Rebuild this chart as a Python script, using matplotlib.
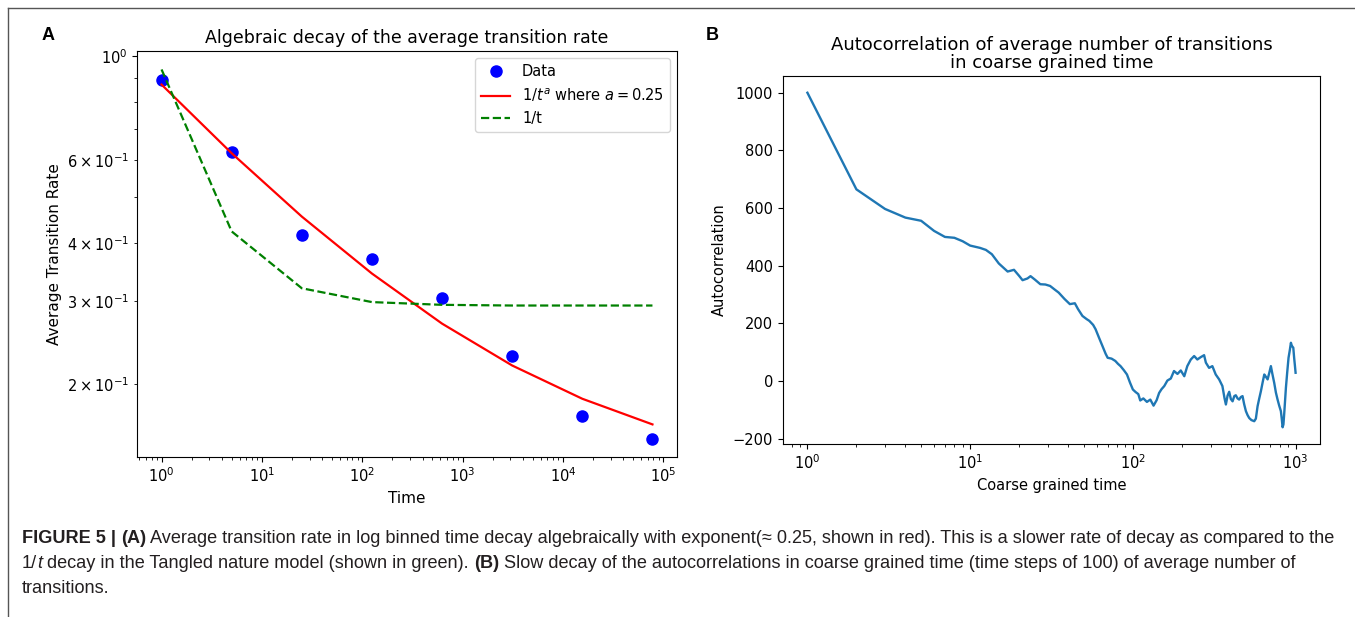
import numpy as np
import matplotlib
matplotlib.use("Agg")
import matplotlib.pyplot as plt
from matplotlib import font_manager
from matplotlib.lines import Line2D

# ---- panel A data (log binned time, powers of 5) ----
time_a = [1, 5, 25, 125, 625, 3125, 15625, 78125]
rate_data = [0.889, 0.625, 0.416, 0.369, 0.305, 0.229, 0.171, 0.153]
rate_fit = [0.870, 0.621, 0.455, 0.344, 0.269, 0.219, 0.186, 0.164]
rate_inv_t = [0.937, 0.423, 0.320, 0.299, 0.295, 0.294, 0.294, 0.294]

# ---- panel B data ----
lag_b = [1, 2, 3, 4, 5, 6, 7, 8, 9, 10,
         11.5, 12.5, 13.6, 15, 17, 18.6, 20, 21, 22.5, 23.5,
         25, 27, 29, 31, 33, 35, 38, 41, 44, 46,
         49, 52, 54, 57, 59, 62, 65, 68, 70, 74,
         78, 81, 84, 88, 92, 96, 100, 104, 108, 111,
         116, 122, 128, 134, 140, 145, 150, 156, 163, 171,
         179, 188, 197, 207, 216, 227, 238, 249, 261, 274,
         281, 294, 308, 323, 339, 355, 366, 373, 382, 391,
         400, 410, 420, 429, 440, 450, 461, 472, 483, 495,
         507, 519, 535, 557, 570, 584, 598, 612, 627, 642,
         657, 673, 690, 705, 720, 739, 757, 775, 793, 812,
         822, 832, 842, 852, 872, 888, 905, 920, 936, 945,
         955, 968, 980, 990, 1000]
autocorr_b = [1000, 665, 597, 567, 556, 521, 500, 497, 485, 470,
              462, 455, 440, 408, 380, 386, 365, 350, 356, 364,
              352, 336, 335, 330, 318, 307, 285, 267, 270, 250,
              226, 215, 209, 195, 180, 150, 122, 95, 81, 78,
              70, 60, 52, 38, 23, -5, -29, -38, -45, -67,
              -60, -72, -64, -85, -66, -41, -28, -17, 2, 9,
              35, 25, 37, 17, 52, 75, 87, 75, 83, 90,
              64, 46, 52, 23, 6, -17, -60, -81, -50, -37,
              -62, -70, -52, -49, -60, -64, -55, -52, -80, -104,
              -118, -128, -135, -139, -130, -87, -60, -35, -5, 23,
              15, 6, 30, 52, 25, -6, -40, -64, -85, -104,
              -130, -160, -150, -110, -23, 30, 81, 105, 133, 125,
              120, 116, 80, 55, 29]

W, H = 1355, 617
fig = plt.figure(figsize=(W / 100, H / 100), dpi=100)

# outer frame (top and left rules)
fig.add_artist(Line2D([8 / W, 1.0], [1 - 8 / H, 1 - 8 / H], color="#555555", lw=1.0))
fig.add_artist(Line2D([8 / W, 8 / W], [0.0, 1 - 8 / H], color="#555555", lw=1.0))

# ---- panel A ----
axA = fig.add_axes([137 / W, 1 - 457 / H, 540 / W, 406 / H])
axA.loglog(time_a, rate_data, "bo", ms=8, label="Data")
axA.loglog(time_a, rate_fit, "r-", lw=1.6, label=r"$1/t^a$ where $a = 0.25$")
axA.loglog(time_a, rate_inv_t, "g--", lw=1.6, label="1/t")
axA.set_title("Algebraic decay of the average transition rate", fontsize=12.5)
axA.set_xlabel("Time", fontsize=11)
axA.set_ylabel("Average Transition Rate", fontsize=11)
axA.tick_params(labelsize=10.5, which="both")
axA.legend(loc="upper right", fontsize=10.5)

# ---- panel B ----
axB = fig.add_axes([783 / W, 1 - 444 / H, 537 / W, 368 / H])
axB.plot(lag_b, autocorr_b, color="#1f77b4", lw=1.7)
axB.set_xscale("log")
axB.set_title("Autocorrelation of average number of transitions\nin coarse grained time",
              fontsize=13, linespacing=0.95)
axB.set_xlabel("Coarse grained time", fontsize=10.5)
axB.set_ylabel("Autocorrelation", fontsize=10.5)
axB.tick_params(labelsize=10.5, which="both")

# panel letters
fig.text(42 / W, 1 - 35 / H, "A", fontsize=13, fontweight="bold",
         family=["Liberation Sans", "DejaVu Sans"], va="center")
fig.text(706 / W, 1 - 35 / H, "B", fontsize=13, fontweight="bold",
         family=["Liberation Sans", "DejaVu Sans"], va="center")

# ---- caption ----
try:
    font_manager.findfont("Liberation Sans Narrow", fallback_to_default=False)
    cap_family = ["Liberation Sans Narrow", "DejaVu Sans"]
except Exception:
    cap_family = ["Liberation Sans", "DejaVu Sans"]

line1 = [("FIGURE 5 | ", {"fontweight": "bold"}),
         ("(A)", {"fontweight": "bold"}),
         (" Average transition rate in log binned time decay algebraically with exponent(\u2248 0.25, "
          "shown in red). This is a slower rate of decay as compared to the", {})]
line2 = [("1/", {}),
         ("t", {"style": "italic"}),
         (" decay in the Tangled nature model (shown in green). ", {}),
         ("(B)", {"fontweight": "bold"}),
         (" Slow decay of the autocorrelations in coarse grained time (time steps of 100) of average number of", {})]
line3 = [("transitions.", {})]

renderer = fig.canvas.get_renderer()


def run_width(runs, size):
    total = 0
    for txt, kw in runs:
        t = fig.text(0, 0, txt, fontsize=size, family=cap_family, **kw)
        total += t.get_window_extent(renderer).width
        t.remove()
    return total


cap_size = 10 * (1321 / run_width(line1, 10))


def draw_runs(runs, x_px, y_px):
    x = x_px
    for txt, kw in runs:
        t = fig.text(x / W, 1 - y_px / H, txt, fontsize=cap_size, family=cap_family,
                     va="baseline", color="#231f20", **kw)
        x += t.get_window_extent(renderer).width


draw_runs(line1, 22, 543)
draw_runs(line2, 22, 568)
draw_runs(line3, 22, 593)

fig.savefig("out.png", dpi=100)
